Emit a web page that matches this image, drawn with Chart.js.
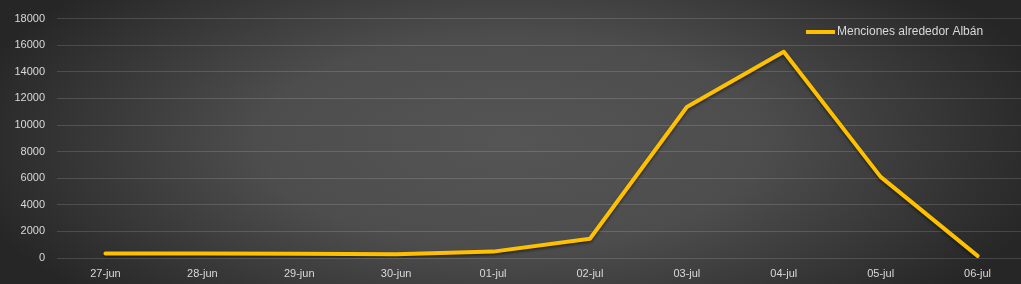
<!DOCTYPE html>
<html>
<head>
<meta charset="utf-8">
<script src="https://cdn.jsdelivr.net/npm/chart.js@4/dist/chart.umd.min.js"></script>
<style>
  html, body { margin: 0; padding: 0; overflow: hidden; width: 1021px; height: 284px; background: #3a3a3a; }
  #wrap { position: relative; width: 1026px; height: 284px; }
</style>
</head>
<body>
<div id="wrap"><canvas id="mentionsChart"></canvas></div>
<script>
// ===== データ =====
const days = ['27-jun', '28-jun', '29-jun', '30-jun', '01-jul', '02-jul', '03-jul', '04-jul', '05-jul', '06-jul'];
const mentions = [340, 330, 320, 290, 480, 1450, 11350, 15500, 6100, 160];
const seriesLabel = 'Menciones alrededor Albán';
const yTicks = [0, 2000, 4000, 6000, 8000, 10000, 12000, 14000, 16000, 18000];

const FONT = "'Liberation Sans', 'DejaVu Sans', sans-serif";
const TEXT = '#d9d9d9';
const GOLD = '#ffc000';

// 背景（放射グラデーション）
const bgPlugin = {
  id: 'bg',
  beforeDraw(chart) {
    const { ctx, width, height } = chart;
    ctx.save();
    ctx.fillStyle = '#2b2b2b';
    ctx.fillRect(0, 0, width, height);
    const cx = 510, cy = 142;
    ctx.translate(cx, cy);
    ctx.scale(1, 0.42);
    const g = ctx.createRadialGradient(0, 0, 0, 0, 0, 560);
    g.addColorStop(0, '#555555');
    g.addColorStop(0.45, '#4d4d4d');
    g.addColorStop(1, '#262626');
    ctx.fillStyle = g;
    ctx.fillRect(-cx, -cy / 0.42, width, height / 0.42);
    ctx.restore();
  }
};

// 線の影
const shadowPlugin = {
  id: 'lineShadow',
  beforeDatasetDraw(chart) {
    const ctx = chart.ctx;
    ctx.save();
    ctx.shadowColor = 'rgba(0,0,0,0.45)';
    ctx.shadowBlur = 3;
    ctx.shadowOffsetY = 2;
  },
  afterDatasetDraw(chart) {
    chart.ctx.restore();
  }
};

// 凡例（グラフ領域内の右上）
const legendPlugin = {
  id: 'insideLegend',
  afterDraw(chart) {
    const ctx = chart.ctx;
    ctx.save();
    ctx.strokeStyle = GOLD;
    ctx.lineWidth = 4;
    ctx.beginPath();
    ctx.moveTo(806, 32);
    ctx.lineTo(835, 32);
    ctx.stroke();
    ctx.fillStyle = TEXT;
    ctx.font = '12px ' + FONT;
    ctx.textBaseline = 'middle';
    ctx.fillText(chart.data.datasets[0].label, 837, 32);
    ctx.restore();
  }
};

new Chart(document.getElementById('mentionsChart'), {
  type: 'line',
  data: {
    labels: days,
    datasets: [{
      label: seriesLabel,
      data: mentions,
      borderColor: GOLD,
      borderWidth: 4,
      pointRadius: 0,
      tension: 0,
      borderJoinStyle: 'round',
      borderCapStyle: 'round',
      fill: false
    }]
  },
  options: {
    responsive: true,
    maintainAspectRatio: false,
    animation: false,
    layout: { padding: { top: 16, right: 0, left: 0, bottom: 0 } },
    plugins: {
      legend: { display: false },
      tooltip: { enabled: false }
    },
    scales: {
      x: {
        offset: true,
        grid: { display: false, drawTicks: false },
        border: { display: false },
        ticks: {
          color: TEXT,
          font: { family: FONT, size: 11 },
          maxRotation: 0,
          autoSkip: false,
          padding: 9
        },
        afterFit: s => { s.height = 26; }
      },
      y: {
        min: 0,
        max: 18000,
        afterBuildTicks: s => { s.ticks = yTicks.map(v => ({ value: v })); },
        grid: { color: 'rgba(255,255,255,0.14)', lineWidth: 1, drawTicks: false },
        border: { display: false },
        ticks: {
          color: TEXT,
          font: { family: FONT, size: 11 },
          padding: 12,
          callback: v => String(v)
        },
        afterFit: s => { s.width = 57; }
      }
    }
  },
  plugins: [bgPlugin, shadowPlugin, legendPlugin]
});
</script>
</body>
</html>
